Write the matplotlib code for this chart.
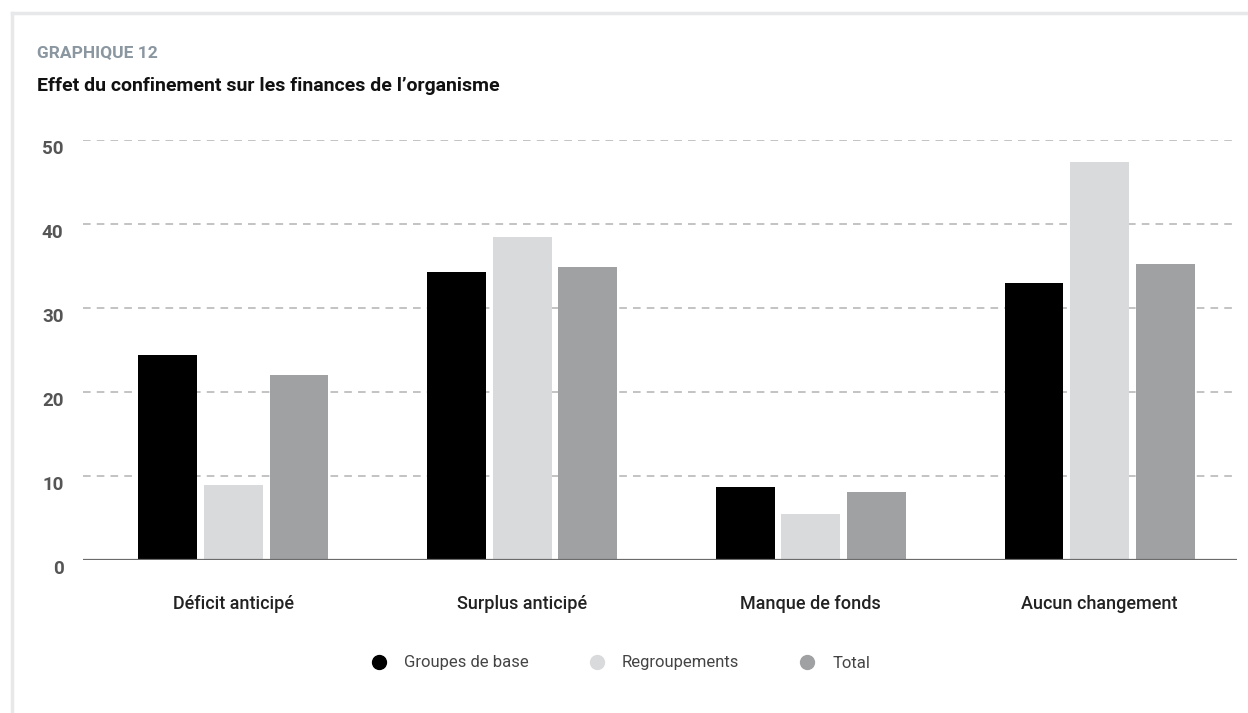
import matplotlib
matplotlib.use("Agg")
import matplotlib.pyplot as plt
import matplotlib.transforms as mtransforms
from matplotlib.lines import Line2D
import numpy as np

plt.rcParams['font.family'] = ['Roboto', 'DejaVu Sans']

# data
categories = ["Déficit anticipé", "Surplus anticipé", "Manque de fonds", "Aucun changement"]
series_names = ["Groupes de base", "Regroupements", "Total"]
groupes_de_base = [24.4, 34.3, 8.7, 33.0]
regroupements = [8.9, 38.5, 5.5, 47.4]
total = [22.0, 34.9, 8.1, 35.2]
yticks = [0, 10, 20, 30, 40, 50]

colors = ["#000000", "#d9dadc", "#a0a1a3"]

fig = plt.figure(figsize=(12.48, 7.13), dpi=100)
ax = fig.add_axes([83 / 1248, 1 - 560 / 713, (1237 - 83) / 1248, 420 / 713])

x = np.arange(len(categories))
width = 0.204
offset = 0.227
for i, (vals, name) in enumerate(zip([groupes_de_base, regroupements, total], series_names)):
    ax.bar(x + (i - 1) * offset, vals, width=width, color=colors[i], label=name, zorder=3)

ax.set_xlim(-0.521, 3.476)
ax.set_ylim(0, 50)

# grid + baseline
for y in yticks[1:]:
    ax.axhline(y, color="#b3b3b3", lw=1.1, ls=(0, (5, 4)), zorder=1)
ax.axhline(0, color="#6b6b6b", lw=1.6, zorder=4)

for s in ax.spines.values():
    s.set_visible(False)

ax.set_yticks(yticks)
ax.set_yticklabels([str(t) for t in yticks], fontsize=13.5, fontweight="bold", color="#555555")
ax.tick_params(axis="y", length=0, pad=14)
dy = mtransforms.ScaledTranslation(0, -7 / 100, fig.dpi_scale_trans)
for lab in ax.get_yticklabels():
    lab.set_transform(lab.get_transform() + dy)

ax.set_xticks(x)
ax.set_xticklabels(categories, fontsize=13, fontweight="medium", color="#222222")
ax.tick_params(axis="x", length=0, pad=25)

# titles
fig.text(37 / 1248, 1 - 53 / 713, "GRAPHIQUE 12", fontsize=12.5, fontweight="bold",
         color="#8a96a0", va="center", ha="left")
fig.text(37 / 1248, 1 - 86 / 713, "Effet du confinement sur les finances de l\u2019organisme",
         fontsize=14, fontweight="bold", color="#111111", va="center", ha="left")

# legend
handles = [Line2D([], [], marker="o", ls="none", markersize=10, markerfacecolor=c,
                  markeredgecolor=c) for c in colors]
fig.legend(handles, series_names, loc="center", bbox_to_anchor=(0.497, 1 - 663 / 713),
           ncol=3, frameon=False, fontsize=12, labelcolor="#444444",
           handletextpad=1.0, columnspacing=3.6, handlelength=1.0)

# light frame on top and left
fig.add_artist(Line2D([12 / 1248, 1], [1 - 13 / 713] * 2, color="#e6e8ea", lw=2.5))
fig.add_artist(Line2D([12 / 1248] * 2, [0, 1 - 13 / 713], color="#e6e8ea", lw=2.5))

fig.savefig("out.png", dpi=100)
